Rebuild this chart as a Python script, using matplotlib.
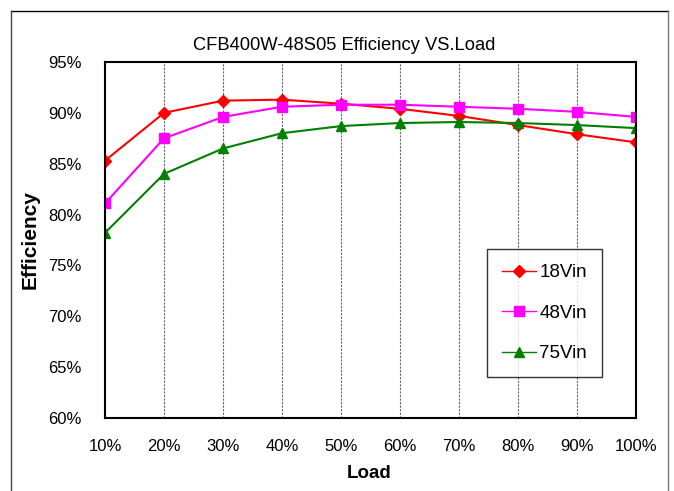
import numpy as np
import matplotlib
matplotlib.use("Agg")
import matplotlib.pyplot as plt
from matplotlib.lines import Line2D

# =============================================================================
# DATOS
# =============================================================================
carga = ["10%", "20%", "30%", "40%", "50%", "60%", "70%", "80%", "90%", "100%"]
ef_18vin = [85.3, 90.0, 91.2, 91.3, 90.9, 90.4, 89.7, 88.8, 87.9, 87.1]
ef_48vin = [81.1, 87.5, 89.6, 90.6, 90.8, 90.8, 90.6, 90.4, 90.1, 89.6]
ef_75vin = [78.2, 84.0, 86.5, 88.0, 88.7, 89.0, 89.1, 89.0, 88.8, 88.5]
yticks = [60, 65, 70, 75, 80, 85, 90, 95]

plt.rcParams['font.family'] = ['Liberation Sans', 'DejaVu Sans']

W, H = 674, 491
fig = plt.figure(figsize=(W / 100, H / 100), dpi=100)
ax = fig.add_axes([105 / W, 1 - 418 / H, 531 / W, 356 / H])

x = np.arange(len(carga))
ax.plot(x, ef_18vin, color='#FF0000', lw=1.5, marker='D', ms=6, label='18Vin')
ax.plot(x, ef_48vin, color='#FF00FF', lw=1.5, marker='s', ms=7.5, label='48Vin')
ax.plot(x, ef_75vin, color='#008000', lw=1.5, marker='^', ms=7.5, label='75Vin')

ax.set_xlim(0, len(carga) - 1)
ax.set_ylim(60, 95)
ax.set_xticks(x)
ax.set_xticklabels(carga)
ax.set_yticks(yticks)
ax.set_yticklabels([f"{v}%" for v in yticks])
ax.tick_params(axis='x', length=0, pad=15, labelsize=12)
ax.tick_params(axis='y', length=0, pad=17, labelsize=12)

for xi in x[1:-1]:
    ax.axvline(xi, color='#666666', lw=0.8, ls=(0, (2, 1.2)), zorder=0)
for s in ax.spines.values():
    s.set_linewidth(1.5)
    s.set_color('black')

fig.text(344 / W, 1 - 46 / H, 'CFB400W-48S05 Efficiency VS.Load',
         ha='center', va='center', fontsize=13.2)
fig.text(30 / W, 1 - 240 / H, 'Efficiency', rotation=90, ha='center', va='center',
         fontsize=15, fontweight='bold')
fig.text(369 / W, 1 - 474 / H, 'Load', ha='center', va='center',
         fontsize=13.5, fontweight='bold')

leg = ax.legend(loc='upper left', bbox_to_anchor=(487 / W, 1 - 249 / H),
                bbox_transform=fig.transFigure, fontsize=13.5, frameon=True,
                fancybox=False, edgecolor='black', labelspacing=1.25,
                handlelength=1.8, handletextpad=0.2, borderpad=0.8,
                borderaxespad=0)
leg.get_frame().set_linewidth(1.0)
for ln in leg.get_lines():
    ln.set_linewidth(1.0)

# marco exterior
fig.add_artist(Line2D([11 / W, 668 / W], [1 - 11 / H, 1 - 11 / H],
                      transform=fig.transFigure, color='black', lw=1.0))
fig.add_artist(Line2D([11 / W, 11 / W], [1 - 11 / H, 0],
                      transform=fig.transFigure, color='#444444', lw=1.0))
fig.add_artist(Line2D([668 / W, 668 / W], [1 - 11 / H, 0],
                      transform=fig.transFigure, color='#777777', lw=1.0))

fig.savefig('out.png', dpi=100)
